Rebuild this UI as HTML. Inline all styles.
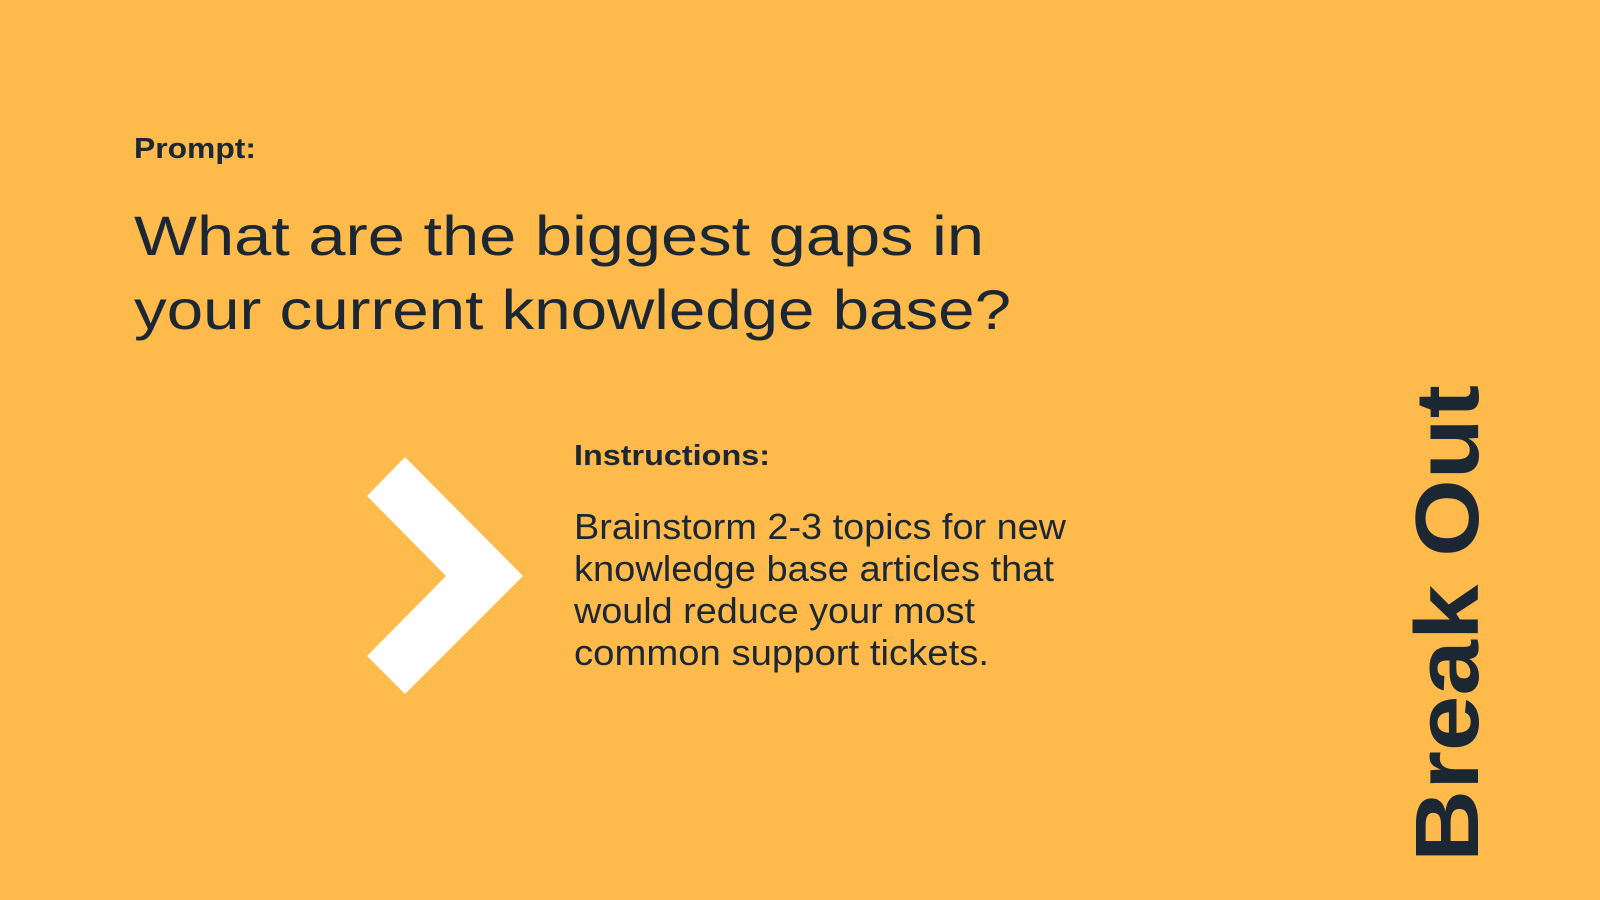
<!DOCTYPE html>
<html><head><meta charset="utf-8"><style>
html,body{margin:0;padding:0;}
body{width:1600px;height:900px;background:#FFBA4C;overflow:hidden;}
svg{display:block;}
text{font-family:"Liberation Sans",sans-serif;fill:#1B2733;}
</style></head><body>
<svg width="1600" height="900" viewBox="0 0 1600 900">
<rect x="0" y="0" width="1600" height="900" fill="#FFBA4C"/>
<text x="134" y="158" font-size="29" font-weight="bold" textLength="122" lengthAdjust="spacingAndGlyphs">Prompt:</text>
<text x="134" y="255" font-size="56" textLength="850" lengthAdjust="spacingAndGlyphs">What are the biggest gaps in</text>
<text x="134" y="329" font-size="56" textLength="877" lengthAdjust="spacingAndGlyphs">your current knowledge base?</text>
<polygon points="405,457 523,576 405,694 367,656 446,576 367,496" fill="#FFFFFF"/>
<text x="574" y="465" font-size="29" font-weight="bold" textLength="196" lengthAdjust="spacingAndGlyphs">Instructions:</text>
<g>
<text x="574" y="539" font-size="36" textLength="492" lengthAdjust="spacingAndGlyphs">Brainstorm 2-3 topics for new</text>
<text x="574" y="581" font-size="36" textLength="480" lengthAdjust="spacingAndGlyphs">knowledge base articles that</text>
<text x="574" y="623" font-size="36" textLength="401" lengthAdjust="spacingAndGlyphs">would reduce your most</text>
<text x="574" y="665" font-size="36" textLength="415" lengthAdjust="spacingAndGlyphs">common support tickets.</text>
</g>
<text x="0" y="0" transform="translate(1478,862) rotate(-90)" font-size="90" font-weight="bold" textLength="477" lengthAdjust="spacingAndGlyphs">Break Out</text>
</svg>
</body></html>
